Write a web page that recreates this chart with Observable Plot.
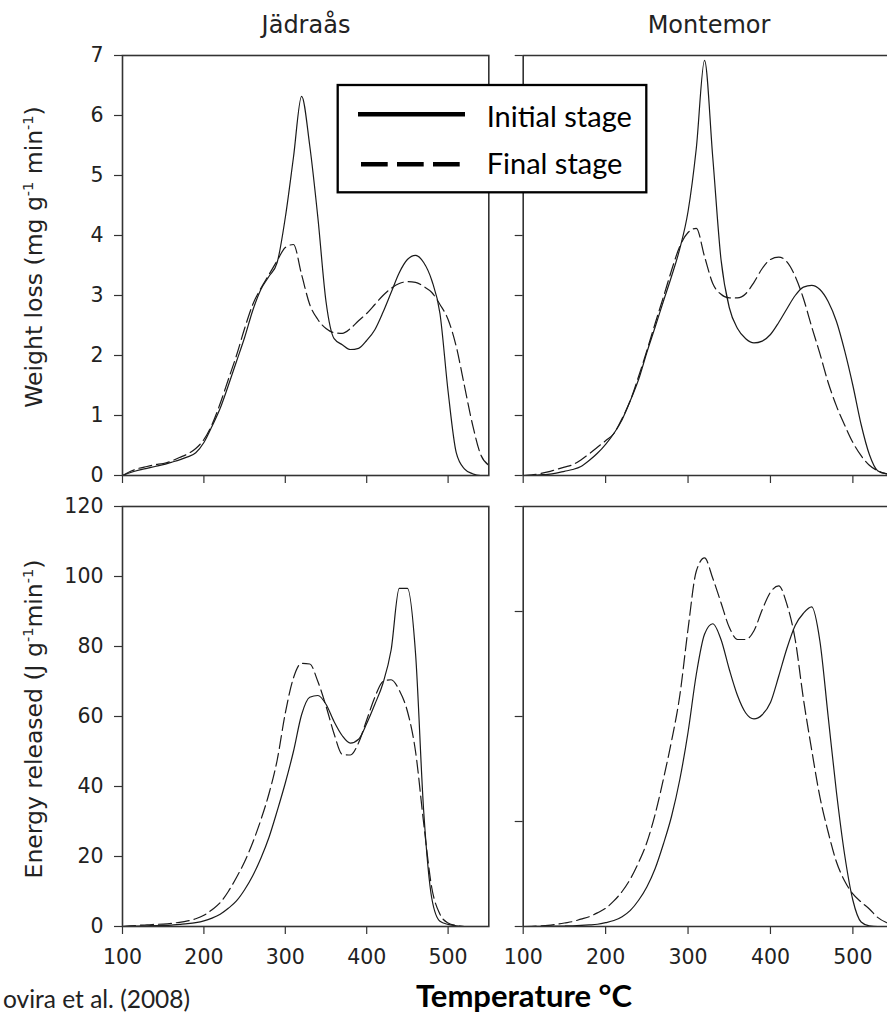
<!DOCTYPE html>
<html><head><meta charset="utf-8">
<script src="https://cdn.jsdelivr.net/npm/d3@7"></script>
<script src="https://cdn.jsdelivr.net/npm/@observablehq/plot@0.6"></script>
<style>
html,body{margin:0;padding:0;background:#fff;overflow:hidden}
#chart{position:relative;width:887px;height:1015px;overflow:hidden}
#chart svg{position:absolute;left:0;top:0}
</style></head><body><div id="chart"></div>
<script>
// Temperature grid (°C)
const temperature = [100,110,120,130,140,150,160,170,180,190,200,210,220,230,240,250,260,270,280,290,300,310,320,330,340,350,360,370,380,390,400,410,420,430,440,450,460,470,480,490,500,510,520,530,540,550];

// Weight loss (mg g-1 min-1)
const wlJadInitial = [0,0.05,0.09,0.12,0.15,0.18,0.22,0.26,0.31,0.38,0.55,0.82,1.12,1.5,1.9,2.3,2.75,3.1,3.32,3.55,4.3,5.3,6.32,5.5,4.3,2.9,2.28,2.18,2.1,2.12,2.25,2.43,2.72,3.05,3.38,3.6,3.67,3.55,3.25,2.7,1.4,0.38,0.11,0.03,0,0];
const wlJadFinal = [0,0.07,0.12,0.15,0.18,0.2,0.24,0.3,0.36,0.45,0.6,0.85,1.2,1.6,2.0,2.45,2.85,3.12,3.35,3.58,3.8,3.85,3.35,2.85,2.6,2.45,2.38,2.37,2.45,2.58,2.7,2.85,3.0,3.12,3.2,3.23,3.22,3.15,3.05,2.85,2.6,2.15,1.5,0.85,0.35,0.17];
const wlMonInitial = [0,0,0.01,0.02,0.04,0.07,0.1,0.15,0.25,0.37,0.52,0.7,0.93,1.25,1.6,2.05,2.47,2.9,3.32,3.78,4.4,5.45,6.92,5.3,3.6,2.8,2.45,2.28,2.21,2.24,2.35,2.55,2.78,3.0,3.14,3.17,3.1,2.9,2.57,2.08,1.5,0.85,0.35,0.08,0.03,0.02];
const wlMonFinal = [0,0.01,0.03,0.06,0.1,0.14,0.18,0.26,0.36,0.47,0.58,0.7,0.95,1.25,1.65,2.08,2.53,2.97,3.42,3.82,4.05,4.12,3.65,3.2,3.02,2.96,2.96,3.03,3.22,3.45,3.6,3.64,3.56,3.32,2.95,2.48,2.03,1.55,1.16,0.84,0.55,0.33,0.17,0.08,0.03,0.01];

// Energy released (J g-1 min-1)
const erJadInitial = [0,0.1,0.15,0.2,0.25,0.3,0.4,0.6,0.8,1.1,1.6,2.4,3.5,5.2,7.3,10.5,14.5,19.5,25.5,33,41,50,60.5,65.5,66,63.5,58.5,54.5,52.4,53.5,58,63.5,69.5,79,96.6,96.6,78,33,8,1.5,0.6,0.2,0,0,0,0];
const erJadFinal = [0,0.2,0.35,0.5,0.6,0.7,0.9,1.2,1.6,2.2,3.2,4.8,6.8,10,14,18.5,24,30.5,38,47.5,61,71,75.2,75,70,63,55,49.2,49,52.5,59,65.5,70,70.5,67.5,61.5,50,29.5,11,3.5,1,0.3,0,0,0,0];
const erMonInitial = [0,0,0.05,0.1,0.12,0.15,0.2,0.3,0.45,0.65,1.1,1.7,2.8,4.6,7.5,11.3,16.5,23.5,31.5,42,55.5,72,83.5,86.5,82,73.5,66,61,59.3,60.5,64,71.5,79.5,86,89.5,91.3,81.5,60,38.5,20.5,7.5,1.3,0.2,0,0,0];
const erMonFinal = [0,0.05,0.15,0.3,0.6,1.0,1.4,2.1,2.8,3.9,5.2,7.3,10,13.6,18.3,24,32,42,53,66,85,101.5,105.3,99.5,92.5,85.5,82,82,84.5,90.5,95.5,97.3,92,82,65,50.5,37,27,18.5,13,9.3,7,5,2.6,1.2,0.5];

// Ticks and labels
const xTicks = [100,200,300,400,500];
const wlTicks = [0,1,2,3,4,5,6,7];
const erTicksLeft = [0,20,40,60,80,100,120];
const erTicksRight = [0,30,60,90,120];
const siteNames = ["Jädraås","Montemor"];
const seriesNames = ["Initial stage","Final stage"];

const W = 887, H = 1015;
const axisFont = "DejaVu Sans, Liberation Sans, Arial, sans-serif";
const ink = "#222";

function rows(vals){ return temperature.map((t,i)=>({t, v: vals[i]})); }

function panel({initial, final, left, right, top, bottom, xDomain, yDomain, yTicks, yLabels, xLabels, fullFrame}){
  const marks = [
    Plot.axisY({ticks: yTicks, tickSize: 8, tickPadding: 11, label: null,
      tickFormat: yLabels ? (d => String(d)) : (() => ""), stroke: "#333", strokeWidth: 1.2}),
    Plot.axisX({ticks: xTicks, tickSize: 8, tickPadding: 15, label: null,
      tickFormat: xLabels ? (d => String(d)) : (() => ""), stroke: "#333", strokeWidth: 1.2}),
    Plot.line(rows(initial), {x: "t", y: "v", stroke: "#1a1a1a", strokeWidth: 1.2,
      curve: "monotone-x", clip: true}),
    Plot.line(rows(final), {x: "t", y: "v", stroke: "#1a1a1a", strokeWidth: 1.2,
      strokeDasharray: "13,5", curve: "monotone-x", clip: true})
  ];
  if (fullFrame) marks.push(Plot.frame({stroke: "#333", strokeWidth: 1.6}));
  else {
    marks.push(Plot.ruleX([xDomain[0]], {stroke: "#333", strokeWidth: 1.6}));
    marks.push(Plot.ruleY([yDomain[0], yDomain[1]], {stroke: "#333", strokeWidth: 1.6}));
  }
  const svg = Plot.plot({
    width: W, height: H,
    marginLeft: left, marginRight: W - right, marginTop: top, marginBottom: H - bottom,
    x: {domain: xDomain, label: null},
    y: {domain: yDomain, label: null},
    style: {background: "transparent", fontFamily: axisFont, fontSize: "20.5px", color: ink, overflow: "visible"},
    marks
  });
  document.getElementById("chart").appendChild(svg);
  return svg;
}

const topY = 55, midY = 475, top2 = 506, botY = 926;
panel({initial: wlJadInitial, final: wlJadFinal, left: 122, right: 488.3, top: topY, bottom: midY,
  xDomain: [100,550], yDomain: [0,7], yTicks: wlTicks, yLabels: true, xLabels: false, fullFrame: true});
panel({initial: wlMonInitial, final: wlMonFinal, left: 522.7, right: 887, top: topY, bottom: midY,
  xDomain: [100,542], yDomain: [0,7], yTicks: wlTicks, yLabels: false, xLabels: false, fullFrame: false});
panel({initial: erJadInitial, final: erJadFinal, left: 122, right: 488.3, top: top2, bottom: botY,
  xDomain: [100,550], yDomain: [0,120], yTicks: erTicksLeft, yLabels: true, xLabels: true, fullFrame: true});
panel({initial: erMonInitial, final: erMonFinal, left: 522.7, right: 887, top: top2, bottom: botY,
  xDomain: [100,542], yDomain: [0,120], yTicks: erTicksRight, yLabels: false, xLabels: true, fullFrame: false});

// Overlay: titles, axis titles, legend, captions
const ov = d3.select("#chart").append("svg").attr("width", W).attr("height", H);
ov.selectAll("text.site").data(siteNames).join("text").attr("class","site")
  .attr("x", (d,i) => i === 0 ? 306 : 709).attr("y", 33)
  .attr("text-anchor","middle").attr("fill", ink)
  .style("font-family", axisFont).style("font-size","24px").text(d => d);

function yTitle(x, y, parts){
  const t = ov.append("text").attr("transform", `translate(${x},${y}) rotate(-90)`)
    .attr("text-anchor","middle").attr("fill", ink)
    .style("font-family", axisFont).style("font-size","23.5px");
  let prevSup = false;
  parts.forEach(([s, sup]) => {
    const ts = t.append("tspan").text(s);
    if (sup) { ts.attr("dy", prevSup ? 0 : -9).style("font-size","14.5px"); }
    else if (prevSup) { ts.attr("dy", 9); }
    prevSup = !!sup;
  });
}
yTitle(42, 257, [["Weight loss (mg g",0],["-1",1],[" min",0],["-1",1],[")",0]]);
yTitle(42, 719, [["Energy released (J g",0],["-1",1],["min",0],["-1",1],[")",0]]);

const lg = ov.append("g");
lg.append("rect").attr("x",337.7).attr("y",85).attr("width",308.6).attr("height",107.3)
  .attr("fill","#fff").attr("stroke","#000").attr("stroke-width",2.3);
lg.append("line").attr("x1",358).attr("x2",465).attr("y1",114.3).attr("y2",114.3)
  .attr("stroke","#000").attr("stroke-width",4.5);
lg.append("line").attr("x1",361).attr("x2",461).attr("y1",164.3).attr("y2",164.3)
  .attr("stroke","#000").attr("stroke-width",4.5).attr("stroke-dasharray","26.7 9.3");
lg.selectAll("text").data(seriesNames).join("text")
  .attr("x",486.7).attr("y",(d,i)=> i===0 ? 126.7 : 173.8)
  .attr("fill","#000").style("font-family","Lato, Carlito, sans-serif").style("font-size","29px").text(d=>d);

ov.append("text").attr("x",632).attr("y",1007).attr("text-anchor","end").attr("fill","#000")
  .style("font-family","Lato, sans-serif").style("font-weight","bold").style("font-size","31px")
  .text("Temperature °C");
ov.append("text").attr("x",3).attr("y",1008).attr("text-anchor","start").attr("fill","#222")
  .style("font-family","Lato, sans-serif").style("font-size","24.5px")
  .text("ovira et al. (2008)");
</script></body></html>
